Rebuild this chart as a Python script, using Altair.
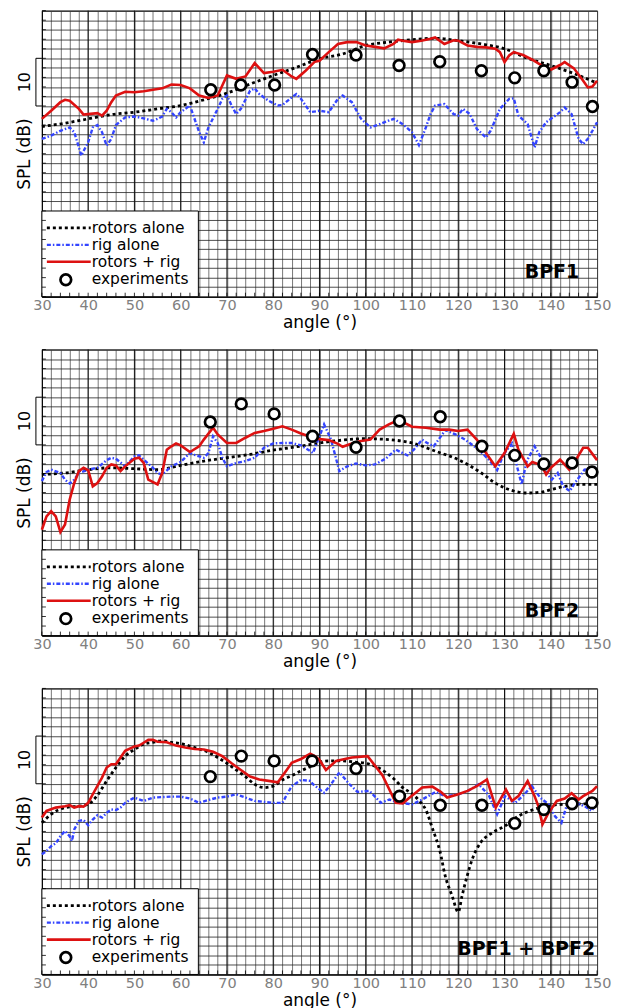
import altair as alt
import pandas as pd

# ---------------- data (angle in degrees, SPL in dB) ----------------
p1_rotors = [(30,35.7),(35,36.4),(40,37.3),(45,38.2),(50,38.7),(55,39.4),(60,40.1),(65,41.3),(70,42.7),(75,44.6),(80,46.4),(85,48.1),(90,49.9),(95,50.9),(100,52.7),(105,53.4),(110,53.9),(115,54.2),(120,53.7),(125,53.0),(130,52.0),(135,50.0),(140,48.5),(145,46.8),(150,44.8)]
p1_rig = [(30,33.1),(32,33.8),(34,34.8),(36,35.5),(37,34.5),(38,31.3),(38.5,29.6),(40,32.4),(41,35.5),(42,36.0),(43,34.5),(44,31.7),(45,33.1),(46,36.0),(48,37.6),(50,37.8),(52,37.4),(54,36.9),(55,37.3),(56,37.8),(57,39.4),(58,38.7),(59,37.6),(60,38.7),(62,40.1),(64,34.5),(65,32.4),(66,35.5),(68,39.4),(69,41.5),(70,42.2),(71,40.1),(72,38.3),(73,39.4),(75,43.2),(76,43.7),(77,42.5),(79,41.1),(81,40.1),(82,40.2),(84,41.8),(85,42.5),(86,41.5),(88,38.7),(90,39.0),(92,38.7),(94,41.5),(95,42.2),(97,40.8),(99,37.3),(101,35.5),(103,36.2),(106,37.3),(108,36.2),(110,34.5),(111.5,31.8),(113,35.5),(114,38.3),(115,40.1),(117,40.4),(119,38.3),(120,38.0),(121,39.4),(122.5,38.3),(124,35.2),(126,33.4),(127,34.8),(129,39.4),(131,41.5),(132,41.6),(133,38.0),(135,36.2),(136.5,31.3),(137.5,34.5),(139,36.6),(140,37.3),(142,38.7),(143,39.7),(144.5,38.3),(146,33.1),(147,32.0),(148,33.1),(149,34.8),(150,36.6)]
p1_comb = [(30,37.3),(32,39.0),(34,40.8),(35,41.3),(36,41.1),(38,39.4),(39,38.2),(40,38.3),(42,38.5),(43,38.0),(44,39.0),(45,40.8),(46,42.2),(48,43.0),(50,42.9),(52,43.1),(54,43.4),(56,43.7),(58,44.5),(60,44.4),(62,43.7),(64,42.2),(66,41.7),(68,42.2),(70,46.4),(72,45.7),(74,46.2),(76,49.0),(78,46.9),(80,47.2),(82,47.6),(84,46.2),(85,45.7),(87,47.4),(89,49.3),(90,49.5),(92,51.3),(94,53.0),(96,53.4),(98,53.4),(100,52.7),(102,52.4),(104,52.1),(106,53.0),(107,53.9),(108,53.7),(110,53.4),(112,53.7),(114,54.1),(115,54.4),(117,53.0),(119,53.8),(120,53.7),(122,52.7),(124,52.4),(126,52.3),(128,52.0),(129,51.3),(130,49.2),(131,50.6),(132,51.3),(134,50.7),(136,49.7),(138,48.5),(140,47.6),(142,48.6),(143,49.2),(145,47.9),(147,45.3),(148,43.9),(149,44.1),(150,45.3)]
p1_exp = [(66.5,43.4),(73,44.4),(80.3,44.4),(88.5,50.8),(97.9,50.7),(107.2,48.5),(116,49.3),(125,47.4),(132.2,45.9),(138.5,47.4),(144.6,45.0),(149,39.9)]

p2_rotors = [(30,33.8),(35,34.1),(40,34.8),(45,35.2),(50,35.0),(55,34.8),(60,35.7),(65,36.6),(70,37.3),(75,38.0),(80,38.9),(85,39.6),(90,40.4),(95,41.0),(100,41.3),(105,41.1),(110,40.4),(115,38.7),(120,36.9),(125,34.1),(128,32.0),(130,31.0),(133,30.1),(135,29.9),(138,30.1),(140,30.6),(143,31.3),(146,31.7),(150,31.7)]
p2_rig = [(30,32.4),(31,34.3),(32,34.8),(34,34.1),(35,32.7),(36,31.9),(37,32.7),(38,34.1),(40,34.8),(42,35.2),(44,36.8),(45,37.3),(46,37.1),(48,35.5),(50,37.6),(51,37.8),(52,36.9),(54,35.2),(55,34.1),(56,33.8),(58,35.5),(60,36.4),(62,38.3),(63,37.9),(65,37.3),(66,38.3),(67,41.8),(68,40.4),(69,37.3),(70,35.5),(72,36.2),(74,36.6),(76,37.3),(78,39.4),(80,40.3),(82,40.4),(84,40.4),(86,39.9),(88,38.7),(88.6,38.3),(91,44.3),(92.5,41.1),(94.3,34.5),(96,35.5),(97.9,36.1),(100,35.7),(102,35.9),(104.3,37.1),(106.5,39.0),(109,37.8),(110.4,39.0),(112.2,41.1),(113.3,40.4),(114.7,39.7),(117.2,43.1),(119.4,42.2),(121.5,41.1),(124.4,39.0),(126.6,36.9),(128.4,34.7),(129.8,38.0),(131.6,40.3),(132.7,35.5),(133.7,31.7),(134.8,36.6),(136.5,39.7),(137.7,37.6),(139.1,34.1),(140.2,32.7),(141.5,34.1),(142.7,31.3),(144.1,30.3),(145.2,32.0),(147.3,34.8),(149.5,35.2),(150,35.2)]
p2_comb = [(30,22.2),(31,25.0),(32,26.1),(33,25.0),(34,21.7),(35,23.3),(36,28.5),(37,32.0),(38,34.5),(39,35.2),(40,34.7),(41,31.3),(42,32.0),(43,33.4),(44,35.2),(45,35.9),(46,35.7),(47,34.5),(48,35.5),(50,37.1),(51,37.3),(52,36.2),(53,32.7),(55,31.7),(56,34.1),(57,39.0),(58,39.7),(59,40.3),(60,39.9),(62,38.5),(64,39.7),(65,41.1),(67,43.6),(68,42.2),(70,40.4),(72,40.4),(74,41.5),(76,42.5),(78,42.9),(80,43.4),(82,43.9),(84,43.2),(86,42.4),(88,41.7),(90,41.2),(92,41.0),(94,40.2),(95,39.6),(97,40.3),(99,40.8),(101,41.1),(103,43.2),(105,44.3),(107,45.2),(108,44.8),(110,43.8),(113,43.6),(116,43.2),(118,43.2),(120,42.9),(122,43.2),(124,41.1),(126,38.3),(128,35.5),(130,38.3),(132,42.3),(133,39.0),(135,35.5),(136,36.4),(138,35.7),(139,33.8),(140,35.2),(142,36.9),(144,34.8),(145,36.2),(147,39.4),(148,39.4),(150,36.8)]
p2_exp = [(66.4,44.8),(73.1,48.6),(80.2,46.5),(88.5,41.8),(97.9,39.5),(107.3,45.0),(116.1,45.9),(125.1,39.7),(132.2,37.8),(138.5,36.0),(144.6,36.2),(148.9,34.3)]

p3_rotors = [(30,31.8),(32,33.6),(35,35.0),(38,35.3),(40,35.7),(42,37.6),(44,40.6),(46,43.4),(48,45.8),(50,47.2),(52,48.3),(54,48.7),(56,49.0),(58,48.7),(60,48.4),(62,47.9),(64,47.3),(66,46.6),(68,45.5),(70,44.3),(72,42.9),(74,41.5),(76,39.9),(78,39.2),(80,39.5),(82,40.8),(84,41.7),(86,42.7),(88,43.6),(90,44.5),(92,44.8),(95,44.8),(98,44.5),(100,44.3),(102,43.7),(104,42.6),(106,41.1),(108,39.2),(110,37.9),(111.5,36.5),(113,34.5),(114.5,30.4),(116,26.0),(117.2,20.6),(118.7,16.4),(120,13.1),(120.8,16.4),(121.9,20.6),(123,24.1),(124.8,27.6),(127.3,29.7),(130,31.1),(133,33.2),(136,34.5),(139,35.3),(143,35.7),(150,35.8)]
p3_rig = [(30,25.2),(31,25.9),(32,26.9),(33,27.5),(34,29.0),(35,30.1),(36,29.0),(36.5,28.0),(37,30.4),(38,32.2),(39,32.4),(40,31.3),(41,32.5),(42,33.4),(43,32.9),(44,33.9),(45,34.6),(46,34.5),(47,35.0),(48,36.0),(50,37.1),(52,36.4),(54,37.1),(56,37.2),(58,37.3),(60,37.3),(62,36.9),(64,36.0),(66,36.6),(68,37.1),(70,37.3),(72,37.8),(74,37.1),(76,36.4),(78,36.2),(80,36.0),(82,36.0),(83,37.8),(84,39.5),(86,40.8),(88,40.6),(88.6,39.9),(91,38.1),(92.5,39.9),(94.3,42.4),(96.5,39.9),(98.2,38.3),(100.8,38.5),(103.3,36.0),(105.1,36.7),(107.2,36.0),(110.1,35.7),(112.2,36.7),(115.1,38.3),(117.2,37.4),(120.1,37.8),(122.3,38.6),(124.4,39.9),(126.6,37.6),(128.4,33.6),(130.1,37.4),(132.3,36.0),(134.1,37.6),(135.9,39.5),(137.7,37.1),(139.5,35.7),(140.9,33.2),(142.3,31.8),(143.4,35.3),(145.2,36.0),(147.3,35.3),(148.8,34.3),(150,36.0)]
p3_comb = [(30,32.9),(31,34.3),(33,35.0),(35,35.3),(36,35.5),(37,35.0),(38,35.3),(39,35.2),(40,36.0),(41,37.8),(43,41.3),(44,43.4),(45,44.1),(46,44.1),(47,45.5),(48,46.9),(50,47.8),(51,48.0),(52,48.6),(53,49.2),(54,49.2),(55,48.8),(57,48.7),(59,48.0),(61,47.6),(63,47.3),(65,47.2),(67,46.7),(69,45.8),(71,44.3),(73,42.9),(75,41.5),(77,40.9),(79,40.6),(81,40.3),(83,43.0),(84,44.4),(86,45.2),(88,46.3),(89,45.8),(90,45.0),(91.4,42.9),(93.6,44.8),(95,45.1),(97,45.5),(100.4,45.8),(103.6,41.8),(106.5,36.0),(108,35.9),(109.5,37.1),(112.2,39.2),(114.4,39.4),(116.2,38.3),(117.6,37.1),(120,37.8),(122,38.5),(124,39.5),(126.2,40.9),(128.1,35.0),(130.3,38.8),(131.6,36.4),(133,37.4),(135,40.6),(136.5,37.4),(137.3,35.3),(138.2,31.5),(139.5,33.9),(141.3,36.4),(143,36.9),(144.5,38.0),(146,36.7),(147,37.4),(149,38.5),(150,39.5)]
p3_exp = [(66.4,41.5),(73.1,45.8),(80.2,44.8),(88.4,44.8),(97.9,43.2),(107.3,37.4),(116.1,35.5),(125.1,35.5),(132.2,31.7),(138.5,34.6),(144.6,35.8),(148.9,36.0)]

panel_labels = ["BPF1", "BPF2", "BPF1 + BPF2"]
legend_labels = ["rotors alone", "rig alone", "rotors + rig", "experiments"]
x_ticks = list(range(30, 151, 2))
x_major = list(range(40, 141, 10))
y_ticks = list(range(0, 61, 2))
scale_bar = [40, 50]

# ---------------- styling ----------------
W, H = 557, 287
FONT = "DejaVu Sans"
RED, BLUE, BLACK = "#dd1111", "#3344ff", "#000000"
DOT = [3, 3]
DASHDOT = [4, 2, 1.5, 2]
CIRCLE = dict(shape="circle", size=115, fill="white", fillOpacity=1, stroke="black",
              strokeWidth=2.7, opacity=1)

xs = alt.Scale(domain=[30, 150], nice=False, zero=False)
ys = alt.Scale(domain=[0, 60], nice=False, zero=False)
xax = alt.Axis(values=x_ticks, labelExpr="datum.value % 10 == 0 ? datum.label : ''",
               grid=True, gridColor="#555555", gridWidth=0.8, ticks=False,
               labelFlush=False, labelOverlap=False, labelColor="#808080",
               labelFontSize=14.5, labelFont=FONT, labelPadding=2,
               title="angle (°)", titleFontSize=17, titleFont=FONT, titleFontWeight="normal",
               titleColor="black", titleY=26, titleBaseline="middle",
               domainColor="black", domainWidth=1)
yax = alt.Axis(values=y_ticks, labels=False, ticks=False, grid=True,
               gridColor="#222222", gridWidth=0.8,
               title="SPL (dB)", titleFontSize=17, titleFont=FONT, titleFontWeight="normal",
               titleColor="black", titleAngle=270, titleX=-17, titleY=H / 2,
               titleAlign="center", titleBaseline="middle",
               domainColor="black", domainWidth=1)
X = alt.X("angle:Q", scale=xs, axis=xax)
Y = alt.Y("spl:Q", scale=ys, axis=yax)

one = pd.DataFrame({"k": [0]})


def frame(pairs):
    return pd.DataFrame(pairs, columns=["angle", "spl"])


def panel(rotors, rig, comb, exp, label, lab_dx, lab_dy):
    layers = []
    # major vertical grid lines
    layers.append(alt.Chart(pd.DataFrame({"angle": x_major})).mark_rule(color="#111111", strokeWidth=1)
                  .encode(x=X, y=alt.value(0), y2=alt.value(H)))
    # legend box
    layers.append(alt.Chart(one).mark_rect(fill="white", stroke="black", strokeWidth=1)
                  .encode(x=alt.value(0), x2=alt.value(157), y=alt.value(201), y2=alt.value(H)))
    # inward ticks along left and bottom edges
    layers.append(alt.Chart(pd.DataFrame({"angle": x_ticks})).mark_rule(color="black", strokeWidth=0.8)
                  .encode(x=X, y=alt.value(H - 4), y2=alt.value(H)))
    layers.append(alt.Chart(pd.DataFrame({"spl": y_ticks})).mark_rule(color="black", strokeWidth=0.8)
                  .encode(y=Y, x=alt.value(0), x2=alt.value(4)))
    # data lines
    layers.append(alt.Chart(frame(rotors)).mark_line(color=BLACK, strokeWidth=2.8, strokeDash=DOT,
                                                     interpolate="monotone").encode(x=X, y=Y))
    layers.append(alt.Chart(frame(rig)).mark_line(color=BLUE, strokeWidth=2.4, strokeDash=DASHDOT)
                  .encode(x=X, y=Y))
    layers.append(alt.Chart(frame(comb)).mark_line(color=RED, strokeWidth=2.6).encode(x=X, y=Y))
    layers.append(alt.Chart(frame(exp)).mark_point(**CIRCLE).encode(x=X, y=Y))
    # legend contents
    ly = [218, 235, 252, 269]
    styles = [dict(color=BLACK, strokeWidth=2.8, strokeDash=DOT),
              dict(color=BLUE, strokeWidth=2.4, strokeDash=DASHDOT),
              dict(color=RED, strokeWidth=2.6)]
    for i, st in enumerate(styles):
        layers.append(alt.Chart(one).mark_rule(**st)
                      .encode(x=alt.value(5), x2=alt.value(49), y=alt.value(ly[i])))
    layers.append(alt.Chart(one).mark_point(**CIRCLE)
                  .encode(x=alt.value(24), y=alt.value(ly[3] + 1)))
    for i, txt in enumerate(legend_labels):
        layers.append(alt.Chart(one).mark_text(align="left", baseline="middle", font=FONT,
                                               fontSize=15.5, color="black")
                      .encode(x=alt.value(50), y=alt.value(ly[i]), text=alt.value(txt)))
    # 10 dB scale bar on the left
    layers.append(alt.Chart(pd.DataFrame({"spl": [scale_bar[0]], "spl2": [scale_bar[1]]}))
                  .mark_rule(color="black", strokeWidth=1)
                  .encode(x=alt.value(-6), y=Y, y2="spl2:Q"))
    layers.append(alt.Chart(pd.DataFrame({"spl": scale_bar})).mark_rule(color="black", strokeWidth=1)
                  .encode(y=Y, x=alt.value(-6), x2=alt.value(0)))
    layers.append(alt.Chart(pd.DataFrame({"spl": [sum(scale_bar) / 2]}))
                  .mark_text(angle=270, align="center", baseline="middle", font=FONT, fontSize=16,
                             color="black")
                  .encode(y=Y, x=alt.value(-16.5), text=alt.value(str(scale_bar[1] - scale_bar[0]))))
    # panel label
    layers.append(alt.Chart(one).mark_text(align="right", baseline="alphabetic", font=FONT,
                                           fontSize=19, fontWeight="bold", color="black")
                  .encode(x=alt.value(W - lab_dx), y=alt.value(H - lab_dy), text=alt.value(label)))
    return alt.layer(*layers).properties(width=W, height=H)


c1 = panel(p1_rotors, p1_rig, p1_comb, p1_exp, panel_labels[0], 18, 19)
c2 = panel(p2_rotors, p2_rig, p2_comb, p2_exp, panel_labels[1], 18, 19)
c3 = panel(p3_rotors, p3_rig, p3_comb, p3_exp, panel_labels[2], 2, 20)

chart = (alt.vconcat(c1, c2, c3, spacing=17)
         .properties(padding={"left": 7, "top": 0, "right": 2, "bottom": 0})
         .configure(font=FONT)
         .configure_view(stroke="black", strokeWidth=1))

chart.save("out.html", embed_options={"renderer": "svg", "actions": False})
